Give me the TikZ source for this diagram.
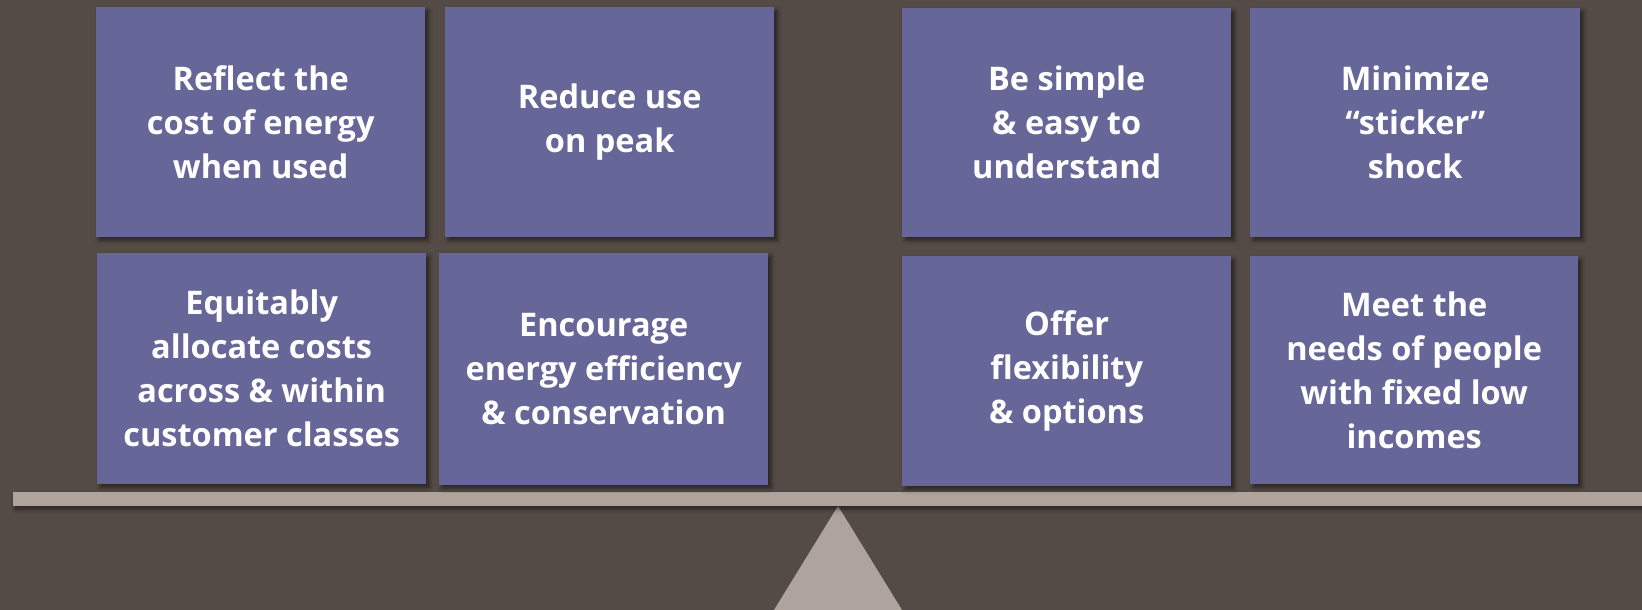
\documentclass[tikz,border=0pt]{standalone}
\usepackage{fontspec}
\setmainfont{Open Sans}
\usetikzlibrary{shadows.blur}
\definecolor{bgc}{HTML}{554B46}
\definecolor{cardc}{HTML}{666699}
\definecolor{beamc}{HTML}{AFA49D}
\begin{document}
\begin{tikzpicture}[x=1pt,y=-1pt,
  card/.style={fill=cardc, draw=none, text=white, align=center,
    font=\fontsize{32.5}{44}\selectfont\bfseries, inner sep=0pt, anchor=north west,
    blur shadow={shadow xshift=3pt, shadow yshift=-3pt, shadow blur radius=4pt, shadow opacity=55}},
  beamstyle/.style={fill=beamc, draw=none,
    blur shadow={shadow xshift=2pt, shadow yshift=-3pt, shadow blur radius=4pt, shadow opacity=55}}]
\fill[bgc] (0,0) rectangle (1642,610);
\useasboundingbox (0,0) rectangle (1642,610);
% fulcrum
\fill[beamc] (838,506) -- (774,610) -- (902,610) -- cycle;
% beam
\path[beamstyle] (13,492) rectangle (1642,506);
% cards
\node[card, minimum width=329pt, minimum height=230pt] (c1) at (96,7) {Reflect the\\cost of energy\\when used};
\node[card, minimum width=329pt, minimum height=230pt] (c2) at (445,7) {Reduce use\\on peak};
\node[card, minimum width=329pt, minimum height=231pt] (c3) at (97,253) {Equitably\\allocate costs\\across \& within\\customer classes};
\node[card, minimum width=329pt, minimum height=232pt] (c4) at (439,253) {Encourage\\energy efficiency\\\& conservation};
\node[card, minimum width=329pt, minimum height=229pt] (c5) at (902,8) {Be simple\\\& easy to\\understand};
\node[card, minimum width=330pt, minimum height=229pt] (c6) at (1250,8) {Minimize\\“sticker”\\shock};
\node[card, minimum width=329pt, minimum height=230pt] (c7) at (902,256) {Offer\\flexibility\\\& options};
\node[card, minimum width=328pt, minimum height=228pt] (c8) at (1250,256) {Meet the\\needs of people\\with fixed low\\incomes};
\end{tikzpicture}
\end{document}
